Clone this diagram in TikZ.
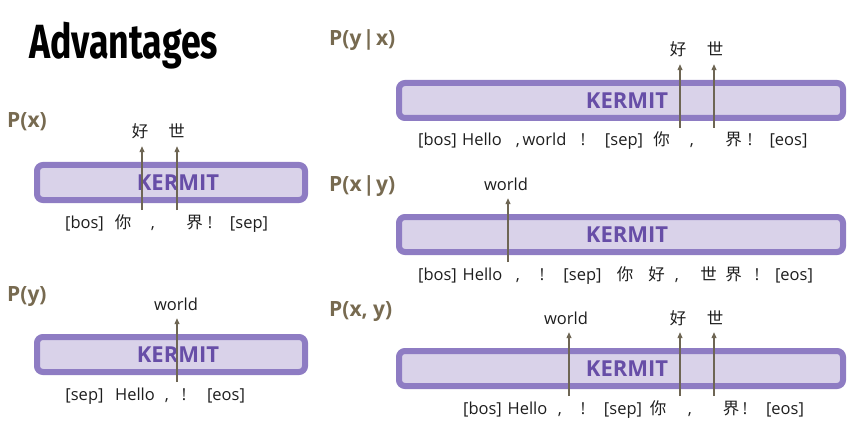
\documentclass[tikz,border=0pt]{standalone}
\usepackage{fontspec}
\setmainfont{Open Sans}
\newfontfamily\cjk{Noto Sans CJK SC}
\newfontfamily\titlefont{Fira Sans}
\definecolor{kermitpurple}{RGB}{142,124,195}
\definecolor{kermitfill}{RGB}{217,210,233}
\definecolor{kermitdark}{RGB}{103,78,167}
\definecolor{probbrown}{RGB}{119,106,80}
\definecolor{arrowgrey}{RGB}{110,102,84}
\definecolor{tokgrey}{RGB}{30,30,30}
\usetikzlibrary{arrows.meta}
\tikzset{
  kermit/.style={rectangle, rounded corners=6pt, draw=kermitpurple, line width=6pt,
                 fill=kermitfill, minimum width=#1, minimum height=35pt, inner sep=0pt},
  kname/.style={inner sep=0pt, font=\fontsize{22}{24}\selectfont\bfseries, text=kermitdark},
  prob/.style={anchor=base west, inner sep=0pt, font=\fontsize{21}{24}\selectfont\bfseries,
               text=probbrown},
  tok/.style={anchor=base, inner sep=0pt, font=\fontsize{16.5}{18}\selectfont, text=tokgrey},
  outtok/.style={tok, text depth=0pt},
  pred/.style={-{Triangle[length=6pt,width=5pt]}, line width=1.2pt, color=arrowgrey,
               shorten >=8pt},
}

\begin{document}
\begin{tikzpicture}[x=1pt, y=-1pt]
  \useasboundingbox (0,0) rectangle (857,433);
  \node[anchor=base west, inner sep=0pt, font=\titlefont\bfseries\fontsize{48}{50}\selectfont]
    (title) at (29,59) {\scalebox{0.745}[1]{Advantages}};

  % P(x)
  \node[prob] (px) at (7,128) {P(x)};
  \node[kermit=268pt] (px-box) at (171,182.5) {};
  \node[kname] (px-name) at (178,182.5) {KERMIT};
  \foreach \x/\t [count=\i] in {84.5/[bos], 123/{\cjk 你}, 153/{,}, 194.5/{\cjk 界}, 210/!, 249/[sep]}
    \node[tok] (px-\i) at (\x,228) {\t};
  \node[outtok] (px-hao) at (140,138) {\cjk 好};
  \node[outtok] (px-shi) at (176.5,138) {\cjk 世};
  \coordinate (px-b1) at (142,210);
  \coordinate (px-b2) at (177,210);
  \draw[pred] (px-b1) -- (px-b1 |- px-hao.south);
  \draw[pred] (px-b2) -- (px-b2 |- px-shi.south);

  % P(y)
  \node[prob] (py) at (7,301) {P(y)};
  \node[kermit=268pt] (py-box) at (171,354.5) {};
  \node[kname] (py-name) at (178,354.5) {KERMIT};
  \foreach \x/\t [count=\i] in {84.5/[sep], 135/Hello, 167/{,}, 184/!, 226/[eos]}
    \node[tok] (py-\i) at (\x,400) {\t};
  \node[outtok] (py-world) at (176,310) {world};
  \coordinate (py-b1) at (177,382);
  \draw[pred] (py-b1) -- (py-b1 |- py-world.south);

  % P(y|x)
  \node[prob] (pyx) at (329,46) {P(y\kern1.5pt|\kern1.5pt x)};
  \node[kermit=444pt] (pyx-box) at (621,100.5) {};
  \node[kname] (pyx-name) at (627,100.5) {KERMIT};
  \foreach \x/\t [count=\i] in {437.5/[bos], 482/Hello, 518/{,}, 544.5/world, 583/!, 624/[sep],
      661.5/{\cjk 你}, 692/{,}, 733.5/{\cjk 界}, 750/!, 788.5/[eos]}
    \node[tok] (pyx-\i) at (\x,146) {\t};
  \node[outtok] (pyx-hao) at (678,56) {\cjk 好};
  \node[outtok] (pyx-shi) at (715,56) {\cjk 世};
  \coordinate (pyx-b1) at (680,128);
  \coordinate (pyx-b2) at (714,128);
  \draw[pred] (pyx-b1) -- (pyx-b1 |- pyx-hao.south);
  \draw[pred] (pyx-b2) -- (pyx-b2 |- pyx-shi.south);

  % P(x|y)
  \node[prob] (pxy) at (329,191) {P(x\kern1.5pt|\kern1.5pt y)};
  \node[kermit=444pt] (pxy-box) at (621,234.5) {};
  \node[kname] (pxy-name) at (627,234.5) {KERMIT};
  \foreach \x/\t [count=\i] in {437.5/[bos], 482.5/Hello, 518/{,}, 542/!, 582.5/[sep],
      625/{\cjk 你}, 656.5/{\cjk 好}, 677/{,}, 708.5/{\cjk 世}, 733.5/{\cjk 界}, 757/!, 794/[eos]}
    \node[tok] (pxy-\i) at (\x,280) {\t};
  \node[outtok] (pxy-world) at (506,190) {world};
  \coordinate (pxy-b1) at (508,262);
  \draw[pred] (pxy-b1) -- (pxy-b1 |- pxy-world.south);

  % P(x, y)
  \node[prob] (pjoint) at (329,316) {P(x, y)};
  \node[kermit=444pt] (pjoint-box) at (621,368.5) {};
  \node[kname] (pjoint-name) at (627,368.5) {KERMIT};
  \foreach \x/\t [count=\i] in {482.5/[bos], 527.5/Hello, 560/{,}, 583/!, 623/[sep],
      658/{\cjk 你}, 690/{,}, 731/{\cjk 界}, 745/!, 785/[eos]}
    \node[tok] (pjoint-\i) at (\x,414) {\t};
  \node[outtok] (pjoint-world) at (566,324) {world};
  \node[outtok] (pjoint-hao) at (678,324) {\cjk 好};
  \node[outtok] (pjoint-shi) at (715,324) {\cjk 世};
  \coordinate (pjoint-b1) at (569,396);
  \coordinate (pjoint-b2) at (680,396);
  \coordinate (pjoint-b3) at (714,396);
  \draw[pred] (pjoint-b1) -- (pjoint-b1 |- pjoint-world.south);
  \draw[pred] (pjoint-b2) -- (pjoint-b2 |- pjoint-hao.south);
  \draw[pred] (pjoint-b3) -- (pjoint-b3 |- pjoint-shi.south);
\end{tikzpicture}
\end{document}
